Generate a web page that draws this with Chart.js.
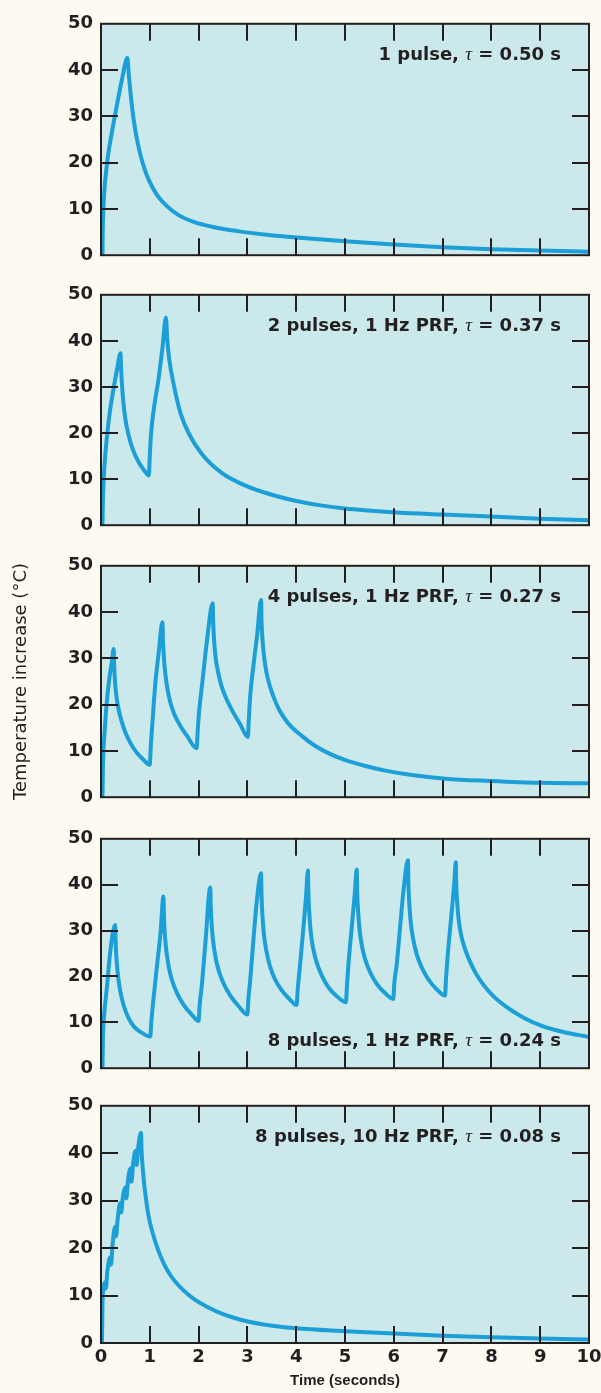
<!DOCTYPE html>
<html>
<head>
<meta charset="utf-8">
<title>Temperature increase</title>
<script src="https://cdn.jsdelivr.net/npm/chart.js@4.4.1/dist/chart.umd.min.js"></script>
<style>
  html, body { margin: 0; padding: 0; background: #fdfaf1; }
  #figura { position: relative; width: 601px; height: 1393px; overflow: hidden; }
  #figura canvas { position: absolute; left: 0; }
</style>
</head>
<body>
<div id="figura"></div>
<script>
// Marcas dos eixos
const marcasX = [0, 1, 2, 3, 4, 5, 6, 7, 8, 9, 10];
const marcasY = [0, 10, 20, 30, 40, 50];

// Rótulos de cada painel
const rotulos = [
    '1 pulse, τ = 0.50 s',
    '2 pulses, 1 Hz PRF, τ = 0.37 s',
    '4 pulses, 1 Hz PRF, τ = 0.27 s',
    '8 pulses, 1 Hz PRF, τ = 0.24 s',
    '8 pulses, 10 Hz PRF, τ = 0.08 s'
];

// Painel 1: 1 pulso
const tempo1 = [0.03, 0.035, 0.045, 0.06, 0.08, 0.11, 0.15, 0.20, 0.27, 0.35, 0.44, 0.54,
    0.57, 0.61, 0.66, 0.72, 0.80, 0.90, 1.00, 1.15, 1.35, 1.60, 1.90, 2.30, 2.80, 3.40,
    4.0, 5.0, 6.0, 7.0, 8.0, 9.0, 10.0];
const temp1 = [0, 5, 9, 12.5, 15.5, 18.5, 22, 25.2, 29.3, 33.8, 38.5, 42.6,
    39, 34.5, 30, 26, 22, 18.4, 15.8, 13, 10.6, 8.6, 7.2, 6.1, 5.2, 4.4,
    3.8, 3.0, 2.3, 1.7, 1.3, 1.0, 0.75];

// Painel 2: 2 pulsos, 1 Hz
const tempo2 = [0.03, 0.04, 0.06, 0.09, 0.12, 0.18, 0.26, 0.33, 0.40,
    0.41, 0.43, 0.46, 0.50, 0.56, 0.64, 0.77, 0.88, 0.98,
    1.00, 1.02, 1.05, 1.10, 1.18, 1.26, 1.33,
    1.36, 1.40, 1.49, 1.63, 1.80, 2.07, 2.48, 2.96, 3.50, 3.98, 4.50, 4.99, 5.98, 6.99, 7.98, 9.0, 10.0];
const temp2 = [0, 6, 11, 15.5, 19, 24.5, 29.8, 33.9, 37.3,
    34.5, 30.5, 26.5, 23, 19.8, 16.8, 13.7, 12, 10.8,
    15, 19, 22.5, 26.5, 31.8, 38.5, 45.1,
    40, 35.9, 30.5, 24.3, 19.9, 15.4, 11.3, 8.6, 6.6, 5.3, 4.3, 3.6, 2.8, 2.3, 1.9, 1.4, 1.1];

// Painel 3: 4 pulsos, 1 Hz
const tempo3 = [0.03, 0.04, 0.06, 0.08, 0.11, 0.17, 0.22, 0.26,
    0.27, 0.29, 0.32, 0.36, 0.42, 0.50, 0.60, 0.72, 0.86, 1.00,
    1.02, 1.05, 1.11, 1.18, 1.26,
    1.27, 1.29, 1.32, 1.36, 1.42, 1.50, 1.62, 1.76, 1.96,
    1.98, 2.01, 2.07, 2.17, 2.29,
    2.30, 2.32, 2.35, 2.40, 2.47, 2.56, 2.70, 2.85, 3.01,
    3.03, 3.06, 3.13, 3.20, 3.28,
    3.29, 3.31, 3.34, 3.39, 3.46, 3.55, 3.67, 3.85, 4.12, 4.40, 4.70, 5.01, 5.40, 5.80, 6.37, 7.06, 7.98, 9.0, 10.0];
const temp3 = [0, 7, 12, 15, 19.5, 25.6, 29, 32,
    28.5, 24.5, 21.5, 19, 16.5, 14, 11.8, 9.8, 8.2, 7.0,
    11, 15.5, 24.2, 31, 37.8,
    34, 30, 26.5, 23.5, 20.5, 18, 15.5, 13.3, 10.6,
    14, 18.5, 24.2, 33.7, 41.9,
    37.5, 33.5, 30, 27, 24, 21.5, 18.5, 15.8, 13,
    17, 22.2, 29, 35.1, 42.6,
    38, 34, 30.5, 27, 24, 21.3, 18.5, 15.8, 13.2, 11.0, 9.3, 8.0, 6.8, 5.8, 4.8, 4.0, 3.5, 3.1, 3.0];

// Painel 4: 8 pulsos, 1 Hz
const tempo4 = [0.03, 0.04, 0.06, 0.09, 0.12, 0.19, 0.29,
    0.30, 0.32, 0.35, 0.40, 0.47, 0.56, 0.68, 0.84, 1.01,
    1.03, 1.06, 1.15, 1.22, 1.28,
    1.29, 1.31, 1.34, 1.39, 1.46, 1.56, 1.70, 1.85, 2.00,
    2.02, 2.07, 2.14, 2.24,
    2.25, 2.27, 2.30, 2.35, 2.42, 2.52, 2.65, 2.82, 3.00,
    3.02, 3.06, 3.13, 3.20, 3.28,
    3.29, 3.31, 3.34, 3.39, 3.46, 3.56, 3.70, 3.85, 4.01,
    4.03, 4.08, 4.15, 4.20, 4.24,
    4.25, 4.27, 4.30, 4.35, 4.42, 4.52, 4.65, 4.82, 5.02,
    5.04, 5.07, 5.14, 5.20, 5.24,
    5.25, 5.27, 5.30, 5.35, 5.42, 5.52, 5.65, 5.82, 5.99,
    6.01, 6.06, 6.13, 6.21, 6.29,
    6.30, 6.32, 6.35, 6.40, 6.47, 6.57, 6.70, 6.87, 7.05,
    7.07, 7.10, 7.17, 7.24, 7.27,
    7.28, 7.30, 7.33, 7.38, 7.45, 7.55, 7.68, 7.85, 8.05, 8.30, 8.66, 9.06, 9.47, 10.0];
const temp4 = [0, 7, 11, 14.5, 17.5, 25.4, 31.2,
    27.5, 23.5, 20, 16.5, 13.5, 11, 9.0, 7.7, 6.9,
    10, 13.5, 22.6, 29.5, 37.4,
    33, 29, 25.5, 22, 19, 16.3, 13.7, 11.8, 10.3,
    13.5, 18.5, 27.4, 39.4,
    35, 31, 27.5, 24, 21, 18.3, 15.8, 13.5, 11.7,
    15, 19.5, 28.8, 37.2, 42.5,
    37.5, 33, 29, 25.5, 22.3, 19.5, 17, 15.2, 13.8,
    17, 22.6, 30.9, 37.2, 43.1,
    38, 33.5, 29.5, 26, 23, 20.3, 17.8, 15.8, 14.4,
    18, 22.6, 30.9, 38, 43.3,
    38.3, 34, 30, 26.5, 23.5, 20.8, 18.4, 16.4, 15.1,
    18.5, 22.6, 30.9, 39.8, 45.3,
    40, 35.5, 31.5, 28, 24.8, 22, 19.5, 17.3, 15.8,
    19.5, 24, 32.2, 40.5, 44.9,
    40, 36, 32.3, 29, 26.3, 23.5, 20.7, 18, 15.6, 13.4, 11, 9.1, 7.9, 6.8];

// Painel 5: 8 pulsos, 10 Hz
const tempo5 = [0.02, 0.03, 0.05, 0.08, 0.10, 0.13, 0.185, 0.205, 0.235, 0.29, 0.31, 0.34, 0.395, 0.415,
    0.445, 0.50, 0.52, 0.55, 0.605, 0.625, 0.655, 0.71, 0.73, 0.76, 0.82,
    0.83, 0.85, 0.88, 0.92, 0.98, 1.05, 1.13, 1.22, 1.35, 1.50, 1.68, 1.90, 2.18, 2.50, 2.90, 3.33,
    4.0, 5.0, 6.0, 7.0, 8.0, 9.0, 10.0];
const temp5 = [0, 8, 11.5, 12.8, 11.5, 15, 18, 16.5, 20.5, 24.5, 22.5, 26, 29.5, 27.5,
    30.5, 32.8, 30.5, 34, 36.8, 34, 37.5, 40.5, 37.5, 41, 44.3,
    41, 37.5, 34, 30.5, 26.5, 23.5, 20.8, 18.3, 15.5, 13.2, 11.2, 9.3, 7.6, 6.1, 4.8, 3.9,
    3.1, 2.5, 2.0, 1.55, 1.2, 0.95, 0.75];

const tempos = [tempo1, tempo2, tempo3, tempo4, tempo5];
const temperaturas = [temp1, temp2, temp3, temp4, temp5];

// Layout (pixels da página)
const larguraPagina = 601;
const alturaPagina = 1393;
const topoPaineis = [17, 288, 559, 832, 1099];
const basePaineis = [262, 532, 804, 1075, 1343];
const esquerdaPainel = 101;
const direitaPainel = 589;
const margem = 12;
const tamMarca = 17;
const xRotulo = 561;

// Estilos
const corLinha = '#1b9fd6';
const corFundoPainel = '#cbe9eb';
const corMoldura = '#231f20';
const familia = "'DejaVu Sans', sans-serif";
const fonteNumeros = { family: familia, size: 18, weight: 'bold' };

// Plugin: fundo, moldura, marcas internas e rótulo do painel
const moldura = {
    id: 'moldura',
    beforeDraw(chart) {
        const { ctx, chartArea: a } = chart;
        ctx.save();
        ctx.fillStyle = corFundoPainel;
        ctx.fillRect(a.left, a.top, a.right - a.left, a.bottom - a.top);
        ctx.restore();
    },
    afterDraw(chart, args, opts) {
        const { ctx, chartArea: a, scales } = chart;
        ctx.save();
        ctx.strokeStyle = corMoldura;
        ctx.lineWidth = 2;
        ctx.beginPath();
        marcasX.slice(1, -1).forEach(v => {
            const px = Math.round(scales.x.getPixelForValue(v));
            ctx.moveTo(px, a.top);
            ctx.lineTo(px, a.top + tamMarca);
            ctx.moveTo(px, a.bottom);
            ctx.lineTo(px, a.bottom - tamMarca);
        });
        marcasY.slice(1, -1).forEach(v => {
            const py = Math.round(scales.y.getPixelForValue(v));
            ctx.moveTo(a.left, py);
            ctx.lineTo(a.left + tamMarca, py);
            ctx.moveTo(a.right, py);
            ctx.lineTo(a.right - tamMarca, py);
        });
        ctx.stroke();
        ctx.strokeRect(a.left, a.top, a.right - a.left, a.bottom - a.top);

        // Rótulo com τ em itálico
        const partes = opts.rotulo.split('τ');
        const fonteTexto = "bold 18px " + familia;
        const fonteTau = "italic 19px 'Liberation Serif', serif";
        ctx.font = fonteTexto;
        const w0 = ctx.measureText(partes[0]).width;
        const w2 = ctx.measureText(partes[1]).width;
        ctx.font = fonteTau;
        const w1 = ctx.measureText('τ').width;
        let x = xRotulo - (w0 + w1 + w2);
        const y = opts.embaixo ? a.bottom - 22 : a.top + 36;
        ctx.fillStyle = corMoldura;
        ctx.textBaseline = 'alphabetic';
        ctx.textAlign = 'left';
        ctx.font = fonteTexto;
        ctx.fillText(partes[0], x, y);
        x += w0;
        ctx.font = fonteTau;
        ctx.fillText('τ', x, y);
        x += w1;
        ctx.font = fonteTexto;
        ctx.fillText(partes[1], x, y);
        ctx.restore();
    }
};

// Função para criar um painel
function criarPainel(i) {
    const ultimo = i === tempos.length - 1;
    const topoCanvas = topoPaineis[i] - margem;
    const alturaCanvas = ultimo ? alturaPagina - topoCanvas : basePaineis[i] - topoPaineis[i] + 2 * margem;

    const canvas = document.createElement('canvas');
    canvas.width = larguraPagina;
    canvas.height = alturaCanvas;
    canvas.style.top = topoCanvas + 'px';
    document.getElementById('figura').appendChild(canvas);

    const pontos = tempos[i].map((t, k) => ({ x: t, y: temperaturas[i][k] }));

    new Chart(canvas, {
        type: 'line',
        data: {
            datasets: [{
                data: pontos,
                borderColor: corLinha,
                borderWidth: 4,
                pointRadius: 0,
                fill: false,
                cubicInterpolationMode: 'monotone'
            }]
        },
        options: {
            responsive: false,
            animation: false,
            events: [],
            layout: {
                padding: { top: margem, right: larguraPagina - direitaPainel, bottom: ultimo ? 0 : margem, left: 0 }
            },
            plugins: {
                legend: { display: false },
                tooltip: { enabled: false },
                moldura: { rotulo: rotulos[i], embaixo: i === 3 }
            },
            scales: {
                x: {
                    type: 'linear',
                    min: 0,
                    max: 10,
                    display: ultimo,
                    afterBuildTicks: s => { s.ticks = marcasX.map(v => ({ value: v })); },
                    afterFit: s => {
                        if (ultimo) {
                            s.height = alturaPagina - basePaineis[i];
                            s.paddingLeft = 0;
                            s.paddingRight = 0;
                        }
                    },
                    ticks: { font: fonteNumeros, color: corMoldura, padding: 4, maxRotation: 0, autoSkip: false },
                    grid: { display: false, drawTicks: false },
                    border: { display: false },
                    title: {
                        display: true,
                        text: 'Time (seconds)',
                        color: corMoldura,
                        font: { family: "'Liberation Sans', Arial, sans-serif", size: 15, weight: 'bold' },
                        padding: { top: 0, bottom: 3 }
                    }
                },
                y: {
                    min: 0,
                    max: 50,
                    afterBuildTicks: s => { s.ticks = marcasY.map(v => ({ value: v })); },
                    afterFit: s => { s.width = esquerdaPainel; },
                    ticks: { font: fonteNumeros, color: corMoldura, padding: 8 },
                    grid: { display: false, drawTicks: false },
                    border: { display: false },
                    title: {
                        display: i === 2,
                        text: 'Temperature increase (°C)',
                        color: corMoldura,
                        font: { family: familia, size: 18, weight: 'normal' },
                        padding: { top: 11, bottom: 0 }
                    }
                }
            }
        },
        plugins: [moldura]
    });
}

for (let i = 0; i < tempos.length; i++) {
    criarPainel(i);
}
</script>
</body>
</html>
